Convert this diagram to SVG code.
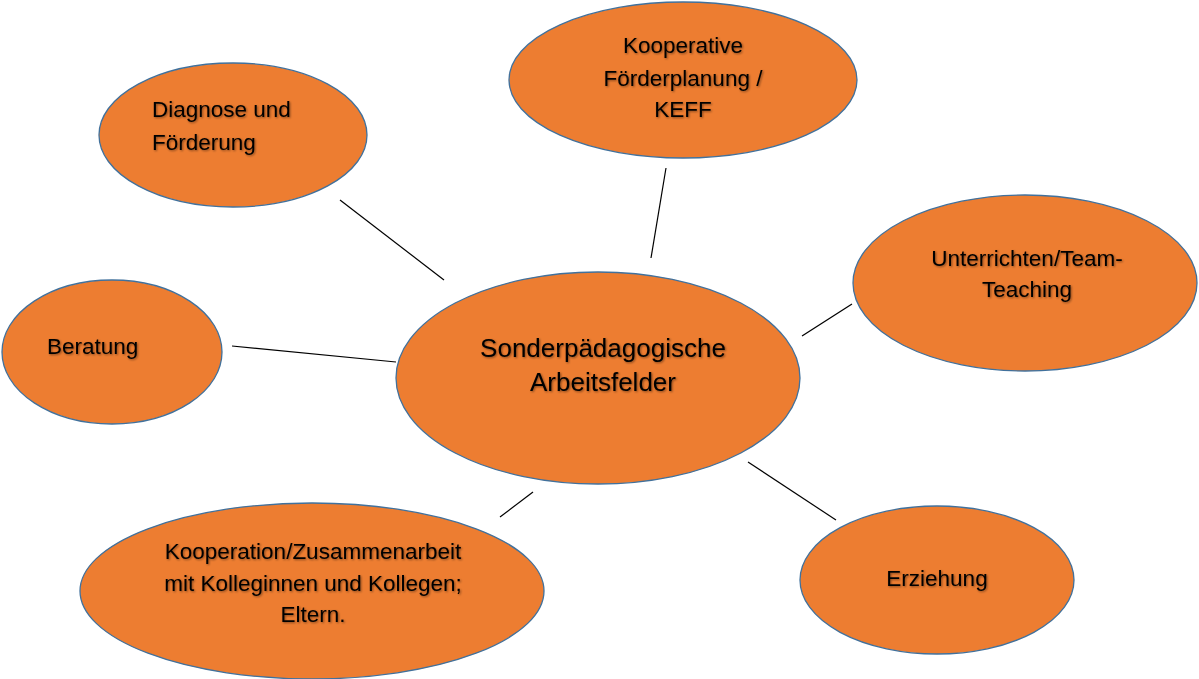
<svg xmlns="http://www.w3.org/2000/svg" width="1199" height="679" viewBox="0 0 1199 679">
<defs>
<filter id="ts" x="-10%" y="-30%" width="120%" height="160%">
<feDropShadow dx="1" dy="1" stdDeviation="0.8" flood-color="#000" flood-opacity="0.45"/>
</filter>
</defs>
<style>
.n{fill:#ED7D31;stroke:#41719C;stroke-width:1.3}
.t{font-family:"Liberation Sans",Arial,sans-serif;font-size:22.5px;fill:#000;filter:url(#ts)}
.c{text-anchor:middle}
.big{font-size:26px}
.l{stroke:#000;stroke-width:1.2;fill:none}
</style>
<rect width="1199" height="679" fill="#fff"/>
<g id="connectors">
<line class="l" x1="340" y1="200" x2="444" y2="280"/>
<line class="l" x1="666" y1="168" x2="651" y2="258"/>
<line class="l" x1="852" y1="304" x2="802" y2="336"/>
<line class="l" x1="232" y1="346" x2="396" y2="362"/>
<line class="l" x1="748" y1="462" x2="836" y2="520"/>
<line class="l" x1="500" y1="517" x2="533" y2="492"/>
</g>
<g id="diagnose">
<ellipse class="n" cx="233" cy="135" rx="134" ry="72"/>
<text class="t" x="152" y="117">Diagnose und</text>
<text class="t" x="152" y="150">Förderung</text>
</g>
<g id="kooperative">
<ellipse class="n" cx="683" cy="80" rx="174" ry="78"/>
<text class="t c" x="683" y="53">Kooperative</text>
<text class="t c" x="683" y="86">Förderplanung /</text>
<text class="t c" x="683" y="117">KEFF</text>
</g>
<g id="unterrichten">
<ellipse class="n" cx="1025" cy="283" rx="172" ry="88"/>
<text class="t c" x="1027" y="266">Unterrichten/Team-</text>
<text class="t c" x="1027" y="297">Teaching</text>
</g>
<g id="beratung">
<ellipse class="n" cx="112" cy="352" rx="110" ry="72"/>
<text class="t" x="47" y="354">Beratung</text>
</g>
<g id="center">
<ellipse class="n" cx="598" cy="378" rx="202" ry="106"/>
<text class="t c big" x="603" y="357">Sonderpädagogische</text>
<text class="t c big" x="603" y="391">Arbeitsfelder</text>
</g>
<g id="kooperation">
<ellipse class="n" cx="312" cy="591" rx="232" ry="88"/>
<text class="t c" x="313" y="559">Kooperation/Zusammenarbeit</text>
<text class="t c" x="313" y="591">mit Kolleginnen und Kollegen;</text>
<text class="t c" x="313" y="622">Eltern.</text>
</g>
<g id="erziehung">
<ellipse class="n" cx="937" cy="580" rx="137" ry="74"/>
<text class="t c" x="937" y="586">Erziehung</text>
</g>
</svg>
